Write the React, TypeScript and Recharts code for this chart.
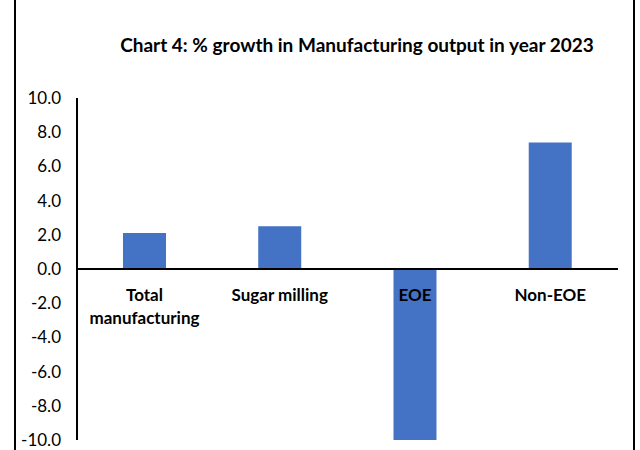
import { Bar, BarChart, LabelList, ReferenceLine, Text, XAxis, YAxis } from "recharts";

const categories = ["Total manufacturing", "Sugar milling", "EOE", "Non-EOE"];
const growth = [2.1, 2.5, -10.0, 7.4];
const yTicks = [-10, -8, -6, -4, -2, 0, 2, 4, 6, 8, 10];

const data = categories.map((name, i) => ({ name, value: growth[i] }));

const FONT = "Lato, 'Open Sans', sans-serif";

// category names sit just under the zero line, not at the bottom of the plot
function CategoryLabel(props: any) {
  const vb = props.viewBox ?? props;
  const { x, y, width, height } = vb;
  const v = growth[props.index] ?? 0;
  const top = Math.min(y, y + height);
  const bottom = Math.max(y, y + height);
  const zero = v >= 0 ? bottom : top;
  return (
    <Text
      x={x + width / 2}
      y={zero + 20}
      width={125}
      textAnchor="middle"
      verticalAnchor="start"
      lineHeight={23}
      fontFamily={FONT}
      fontSize={17}
      fontWeight="bold"
      fill="#000"
    >
      {props.value}
    </Text>
  );
}

export default function App() {
  return (
    <div style={{ position: "absolute", left: 0, top: 0, width: 640, height: 450, background: "#fff" }}>
      <div style={{ position: "absolute", left: 14, top: 0, width: 2, height: 450, background: "#000" }} />
      <div style={{ position: "absolute", left: 633, top: 0, width: 2, height: 450, background: "#000" }} />
      <div
        style={{
          position: "absolute",
          left: 57,
          top: 34,
          width: 600,
          lineHeight: "22px",
          textAlign: "center",
          fontFamily: FONT,
          fontSize: 19,
          fontWeight: "bold",
          color: "#000",
        }}
      >
        Chart 4: % growth in Manufacturing output in year 2023
      </div>
      <div style={{ position: "absolute", left: 0, top: 0 }}>
        <BarChart
          width={640}
          height={450}
          data={data}
          margin={{ top: 98, right: 22, bottom: 10, left: 0 }}
          barCategoryGap="34%"
        >
          <XAxis dataKey="name" hide />
          <YAxis
            width={77}
            domain={[-10, 10]}
            ticks={yTicks}
            interval={0}
            tickFormatter={(v: number) => v.toFixed(1)}
            tickLine={false}
            tickMargin={10}
            axisLine={{ stroke: "#000", strokeWidth: 2 }}
            tick={{ fill: "#000", fontFamily: FONT, fontSize: 17 }}
          />
          <ReferenceLine y={0} stroke="#000" strokeWidth={2} />
          <Bar dataKey="value" fill="#4472C4" isAnimationActive={false}>
            <LabelList dataKey="name" content={<CategoryLabel />} />
          </Bar>
        </BarChart>
      </div>
    </div>
  );
}
